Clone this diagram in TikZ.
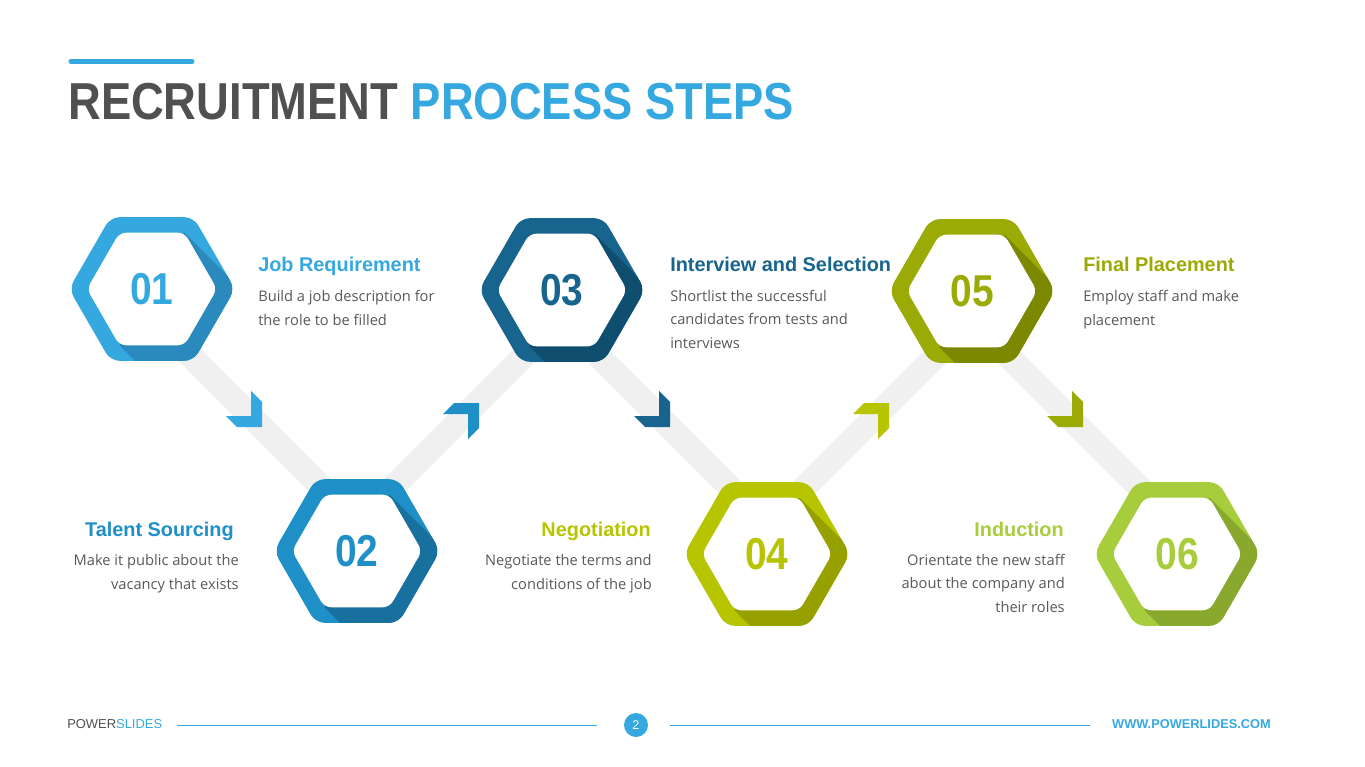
\documentclass[tikz,border=0pt]{standalone}
\usepackage{fontspec}
\setmainfont{Liberation Sans}
\newfontfamily\condfont[FakeStretch=0.872]{Liberation Sans}
\newfontfamily\descfont{Open Sans}
\usetikzlibrary{calc}
\definecolor{hexa}{HTML}{35A8E0}
\definecolor{hexadk}{HTML}{2A89BD}
\definecolor{hexb}{HTML}{1F8FC8}
\definecolor{hexbdk}{HTML}{18709E}
\definecolor{hexc}{HTML}{17648F}
\definecolor{hexcdk}{HTML}{104E70}
\definecolor{hexd}{HTML}{B7C400}
\definecolor{hexddk}{HTML}{96A100}
\definecolor{hexe}{HTML}{9BAA04}
\definecolor{hexedk}{HTML}{7B8800}
\definecolor{hexf}{HTML}{A8CD3C}
\definecolor{hexfdk}{HTML}{88A82E}
\definecolor{titlegray}{HTML}{505050}
\definecolor{descgray}{HTML}{595959}
\definecolor{bandgray}{HTML}{F0F0F0}

\begin{document}
\begin{tikzpicture}[
  x=0.75pt, y=-0.75pt,
  band/.style={draw=bandgray, line width=18pt},
  hexnum/.style={font=\condfont\bfseries\fontsize{33.5}{36}\selectfont, inner sep=0pt},
  steptitle/.style={font=\bfseries\fontsize{14.9}{18}\selectfont, inner sep=0pt},
  stepdesc/.style={font=\descfont\fontsize{11}{17.6}\selectfont, text=descgray, inner sep=0pt},
]
\useasboundingbox[fill=white] (0,0) rectangle (1365,767);

% title
\draw[hexa, line width=3.75pt, line cap=round] (71,61.5) -- (192,61.5);
\node[anchor=base west, inner sep=0pt, font=\condfont\bfseries\fontsize{39}{40}\selectfont] (ttl) at (68,119.5)
  {\textcolor{titlegray}{RECRUITMENT} \textcolor{hexa}{PROCESS STEPS}};

% hexagon centres
\foreach \i/\x/\y in {1/152/289, 2/357/551, 3/562/290, 4/767/554, 5/972/291, 6/1177/554}
  \coordinate (h\i) at (\x,\y);

% grey bands
\foreach \a/\b/\dy in {1/2/110, 2/3/-110, 3/4/110, 4/5/-110, 5/6/110} {
  \coordinate (m\a) at ($(h\a)!0.5!(h\b)$);
  \coordinate (bs\a) at ($(m\a)+(-110,{-(\dy)})$);
  \coordinate (be\a) at ($(m\a)+(110,\dy)$);
  \draw[band] (bs\a) -- (be\a);
}

% hexagons
\foreach \i/\col/\dk in {1/hexa/hexadk, 2/hexb/hexbdk, 3/hexc/hexcdk, 4/hexd/hexddk, 5/hexe/hexedk, 6/hexf/hexfdk} {
  \begin{scope}
    \clip[rounded corners=7pt] ($(h\i)+(0:83)$) -- ($(h\i)+(60:83)$) -- ($(h\i)+(120:83)$)
      -- ($(h\i)+(180:83)$) -- ($(h\i)+(240:83)$) -- ($(h\i)+(300:83)$) -- cycle;
    \fill[\col] ($(h\i)+(-90,-90)$) rectangle ($(h\i)+(90,90)$);
    \fill[\dk] ($(h\i)+(120:65)$) -- ($(h\i)+(300:65)$) -- ($(h\i)+(300:65)+(120,120)$)
      -- ($(h\i)+(0:65)+(120,120)$) -- ($(h\i)+(60:65)+(120,120)$) -- ($(h\i)+(120:65)+(120,120)$) -- cycle;
  \end{scope}
  \fill[white, rounded corners=5pt] ($(h\i)+(0:65)$) -- ($(h\i)+(60:65)$) -- ($(h\i)+(120:65)$)
    -- ($(h\i)+(180:65)$) -- ($(h\i)+(240:65)$) -- ($(h\i)+(300:65)$) -- cycle;
  \node[hexnum, text=\col] (n\i) at (h\i) {0\i};
}

% chevrons
\coordinate (k1) at (262,427);
\coordinate (k2) at (479,403);
\coordinate (k3) at (670,427);
\coordinate (k4) at (889,403);
\coordinate (k5) at (1083,427);
\fill[hexa] (k1) -- ++(0,-25) -- ++(-11,-11) -- ++(0,25) -- ++(-25,0) -- ++(11,11) -- cycle;
\fill[hexb] (k2) -- ++(0,25) -- ++(-11,11) -- ++(0,-25) -- ++(-25,0) -- ++(11,-11) -- cycle;
\fill[hexc] (k3) -- ++(0,-25) -- ++(-11,-11) -- ++(0,25) -- ++(-25,0) -- ++(11,11) -- cycle;
\fill[hexd] (k4) -- ++(0,25) -- ++(-11,11) -- ++(0,-25) -- ++(-25,0) -- ++(11,-11) -- cycle;
\fill[hexe] (k5) -- ++(0,-25) -- ++(-11,-11) -- ++(0,25) -- ++(-25,0) -- ++(11,11) -- cycle;

% step texts (description anchors sit on the last line)
\node[steptitle, text=hexa, anchor=base west] (t1) at (258,271) {Job Requirement};
\node[stepdesc, anchor=base west, align=left] (d1) at (258,325) {Build a job description for\\the role to be filled};
\node[steptitle, text=hexb, anchor=base east] (t2) at (234,536) {Talent Sourcing};
\node[stepdesc, anchor=base east, align=right] (d2) at (239,589) {Make it public about the\\vacancy that exists};
\node[steptitle, text=hexc, anchor=base west] (t3) at (670,271) {Interview and Selection};
\node[stepdesc, anchor=base west, align=left] (d3) at (670,348) {Shortlist the successful\\candidates from tests and\\interviews};
\node[steptitle, text=hexd, anchor=base east] (t4) at (651,536) {Negotiation};
\node[stepdesc, anchor=base east, align=right] (d4) at (652,589) {Negotiate the terms and\\conditions of the job};
\node[steptitle, text=hexe, anchor=base west] (t5) at (1083,271) {Final Placement};
\node[stepdesc, anchor=base west, align=left] (d5) at (1083,325) {Employ staff and make\\placement};
\node[steptitle, text=hexf, anchor=base east] (t6) at (1064,536) {Induction};
\node[stepdesc, anchor=base east, align=right] (d6) at (1065,612) {Orientate the new staff\\about the company and\\their roles};

% footer
\node[anchor=base west, inner sep=0pt, font=\fontsize{9.7}{11}\selectfont] (logo) at (67,728)
  {\textcolor{titlegray}{POWER}\textcolor{hexa}{SLIDES}};
\node[circle, fill=hexa, text=white, minimum size=18pt, inner sep=0pt, font=\fontsize{9.5}{11}\selectfont] (pg) at (636,725) {2};
\node[anchor=base east, inner sep=0pt, text=hexa, font=\bfseries\fontsize{9.6}{11}\selectfont] (web) at (1271,728) {WWW.POWERLIDES.COM};
\coordinate (fa) at (177,725);
\coordinate (fb) at (597,725);
\coordinate (fc) at (670,725);
\coordinate (fd) at (1090,725);
\draw[hexa, line width=0.75pt] (fa) -- (fb);
\draw[hexa, line width=0.75pt] (fc) -- (fd);
\end{tikzpicture}
\end{document}
